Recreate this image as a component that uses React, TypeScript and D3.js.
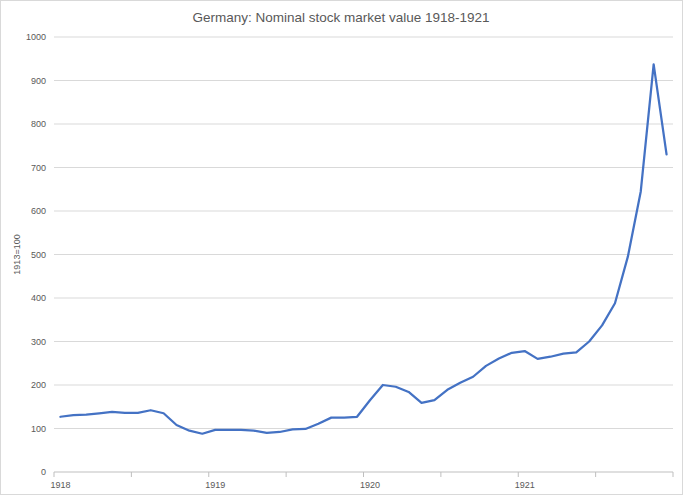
import React, { useEffect, useRef } from 'react';
import * as d3 from 'd3';

// monthly index, 1913=100, Jan 1918 .. Dec 1921
const years = [1918, 1919, 1920, 1921];
const months = ['Jan', 'Feb', 'Mar', 'Apr', 'May', 'Jun', 'Jul', 'Aug', 'Sep', 'Oct', 'Nov', 'Dec'];
const values1918 = [127, 131, 132, 135, 138, 136, 136, 142, 135, 108, 95, 88];
const values1919 = [97, 97, 97, 95, 90, 92, 98, 99, 111, 125, 125, 127];
const values1920 = [165, 200, 196, 184, 159, 165, 189, 205, 219, 244, 261, 274];
const values1921 = [278, 260, 265, 272, 275, 300, 337, 388, 495, 645, 937, 730];
const yTicks = [0, 100, 200, 300, 400, 500, 600, 700, 800, 900, 1000];

const title = 'Germany: Nominal stock market value 1918-1921';
const yTitle = '1913=100';

const App = () => {
  const container = useRef(null);

  const width = 684;
  const height = 496;
  const margins = { l: 54, t: 37, r: 11, b: 24 };
  const plotwidth = width - margins.l - margins.r;
  const plotheight = height - margins.t - margins.b;

  useEffect(() => {
    createChart();
  }, []);

  const createChart = () => {
    const allValues = [values1918, values1919, values1920, values1921];
    const series = [];
    years.forEach((yr, yi) => {
      months.forEach((m, mi) => {
        series.push({ key: `${yr}-${m}`, year: yr, month: mi, value: allValues[yi][mi] });
      });
    });

    const svg = d3
      .select(container.current)
      .selectAll('svg')
      .data([0])
      .join('svg')
      .attr('width', width)
      .attr('height', height)
      .style('position', 'absolute')
      .style('left', '0px')
      .style('top', '0px')
      .style('font-family', '"Liberation Sans", Arial, sans-serif');

    svg.selectAll('*').remove();

    svg
      .append('rect')
      .attr('x', 0.5)
      .attr('y', 0.5)
      .attr('width', width - 2)
      .attr('height', height - 2)
      .attr('fill', '#fff')
      .attr('stroke', '#d9d9d9');

    const xScale = d3
      .scaleBand()
      .domain(series.map(d => d.key))
      .range([0, plotwidth])
      .padding(0);

    const yScale = d3.scaleLinear().domain([0, 1000]).range([plotheight, 0]);

    const plotg = svg.append('g').attr('transform', `translate(${margins.l},${margins.t})`);

    // gridlines
    plotg
      .selectAll('.grid')
      .data(yTicks.filter(d => d > 0))
      .join('line')
      .attr('class', 'grid')
      .attr('x1', 0)
      .attr('x2', plotwidth)
      .attr('y1', d => yScale(d))
      .attr('y2', d => yScale(d))
      .attr('stroke', '#d9d9d9')
      .attr('stroke-width', 1);

    // y labels
    plotg
      .selectAll('.ylab')
      .data(yTicks)
      .join('text')
      .attr('class', 'ylab')
      .attr('x', -8)
      .attr('y', d => yScale(d))
      .attr('dy', '0.35em')
      .attr('text-anchor', 'end')
      .attr('font-size', 9)
      .attr('fill', '#595959')
      .text(d => d);

    // x axis line and ticks (every 6 months)
    plotg
      .append('line')
      .attr('x1', 0)
      .attr('x2', plotwidth)
      .attr('y1', plotheight)
      .attr('y2', plotheight)
      .attr('stroke', '#bfbfbf');

    const tickKeys = series.filter(d => d.month % 6 === 0).map(d => d.key);
    plotg
      .selectAll('.xtick')
      .data([...tickKeys, 'end'])
      .join('line')
      .attr('class', 'xtick')
      .attr('x1', d => (d === 'end' ? plotwidth : xScale(d)))
      .attr('x2', d => (d === 'end' ? plotwidth : xScale(d)))
      .attr('y1', plotheight)
      .attr('y2', plotheight + 5)
      .attr('stroke', '#bfbfbf');

    plotg
      .selectAll('.xlab')
      .data(series.filter(d => d.month === 0))
      .join('text')
      .attr('class', 'xlab')
      .attr('x', d => xScale(d.key) + xScale.bandwidth() / 2)
      .attr('y', plotheight + 16)
      .attr('text-anchor', 'middle')
      .attr('font-size', 9)
      .attr('fill', '#595959')
      .text(d => d.year);

    const line = d3
      .line()
      .x(d => xScale(d.key) + xScale.bandwidth() / 2)
      .y(d => yScale(d.value));

    plotg
      .append('path')
      .datum(series)
      .attr('d', line)
      .attr('fill', 'none')
      .attr('stroke', '#4472c4')
      .attr('stroke-width', 2.25)
      .attr('stroke-linejoin', 'round')
      .attr('stroke-linecap', 'round');

    svg
      .append('text')
      .attr('x', 341)
      .attr('y', 22)
      .attr('text-anchor', 'middle')
      .attr('font-size', 13.5)
      .attr('fill', '#595959')
      .text(title);

    svg
      .append('text')
      .attr('transform', `translate(20,${margins.t + plotheight / 2}) rotate(-90)`)
      .attr('text-anchor', 'middle')
      .attr('font-size', 9)
      .attr('fill', '#595959')
      .text(yTitle);
  };

  return <div className="chart-container" ref={container}></div>;
};

export default App;
